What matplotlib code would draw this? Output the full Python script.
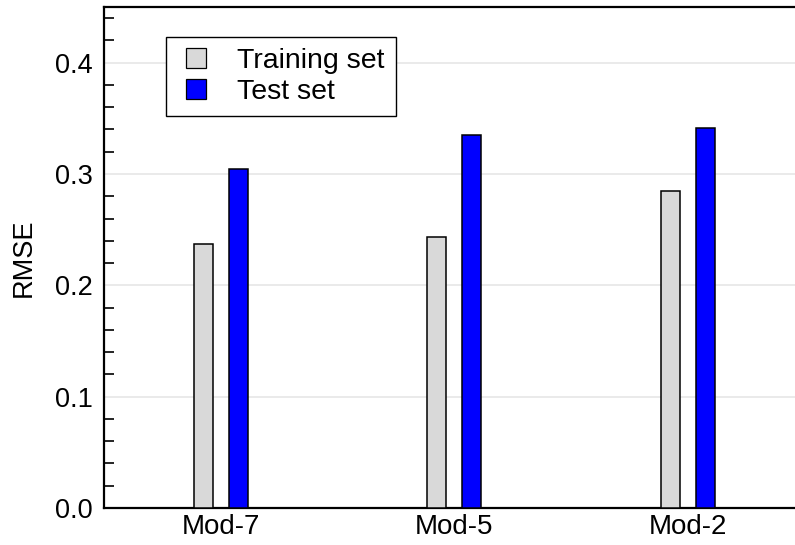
import numpy as np
import matplotlib.pyplot as plt
from matplotlib.ticker import MultipleLocator
from matplotlib.lines import Line2D

plt.rcParams['font.family'] = ['Liberation Sans', 'DejaVu Sans']

# data
models = ['Mod-7', 'Mod-5', 'Mod-2']
rmse_train = [0.2375, 0.2433, 0.2843]
rmse_test = [0.3045, 0.3350, 0.3410]

train_col = '#d9d9d9'
test_col = '#0000ff'

x = np.arange(len(models))
w = 0.081
off = 0.075

fig = plt.figure(figsize=(7.95, 5.45), dpi=100)
ax = fig.add_axes([0.1308, 0.0679, 0.8692, 0.9192])

ax.bar(x - off, rmse_train, w, color=train_col, edgecolor='black', lw=1.1, zorder=3)
ax.bar(x + off, rmse_test, w, color=test_col, edgecolor='black', lw=1.1, zorder=3)

ax.set_xlim(-0.5, 2.46)
ax.set_ylim(0, 0.45)
ax.set_xticks(x)
ax.set_xticklabels(models, fontsize=20)
ax.set_yticks([0.0, 0.1, 0.2, 0.3, 0.4])
ax.set_yticklabels(['0.0', '0.1', '0.2', '0.3', '0.4'], fontsize=19.5)
ax.yaxis.set_minor_locator(MultipleLocator(0.02))
ax.tick_params(axis='y', which='major', length=0, pad=8)
ax.tick_params(axis='y', which='minor', direction='in', length=7.5, width=1.2, color='black')
ax.tick_params(axis='x', which='both', length=0, pad=4)
ax.set_ylabel('RMSE', fontsize=19.5, labelpad=13)

ax.grid(axis='y', which='major', color='#e6e6e6', lw=1.2, zorder=0)
ax.set_axisbelow(True)

for s in ['left', 'bottom', 'top']:
    ax.spines[s].set_linewidth(1.6)
ax.spines['right'].set_visible(False)

# square marker handles, like the reference legend
handles = [Line2D([], [], ls='none', marker='s', ms=14.5, mfc=train_col, mec='black', mew=0.9),
           Line2D([], [], ls='none', marker='s', ms=14.5, mfc=test_col, mec='black', mew=0.9)]
leg = ax.legend(handles, ['Training set', 'Test set'], loc='upper left',
                bbox_to_anchor=(0.0897, 0.940), borderaxespad=0,
                prop={'size': 20.5}, fancybox=False, edgecolor='black', framealpha=1,
                handlelength=1.32, handletextpad=0.79, borderpad=0.39, labelspacing=0.17)
leg.get_frame().set_linewidth(1.0)

fig.savefig('out.png', dpi=100)
